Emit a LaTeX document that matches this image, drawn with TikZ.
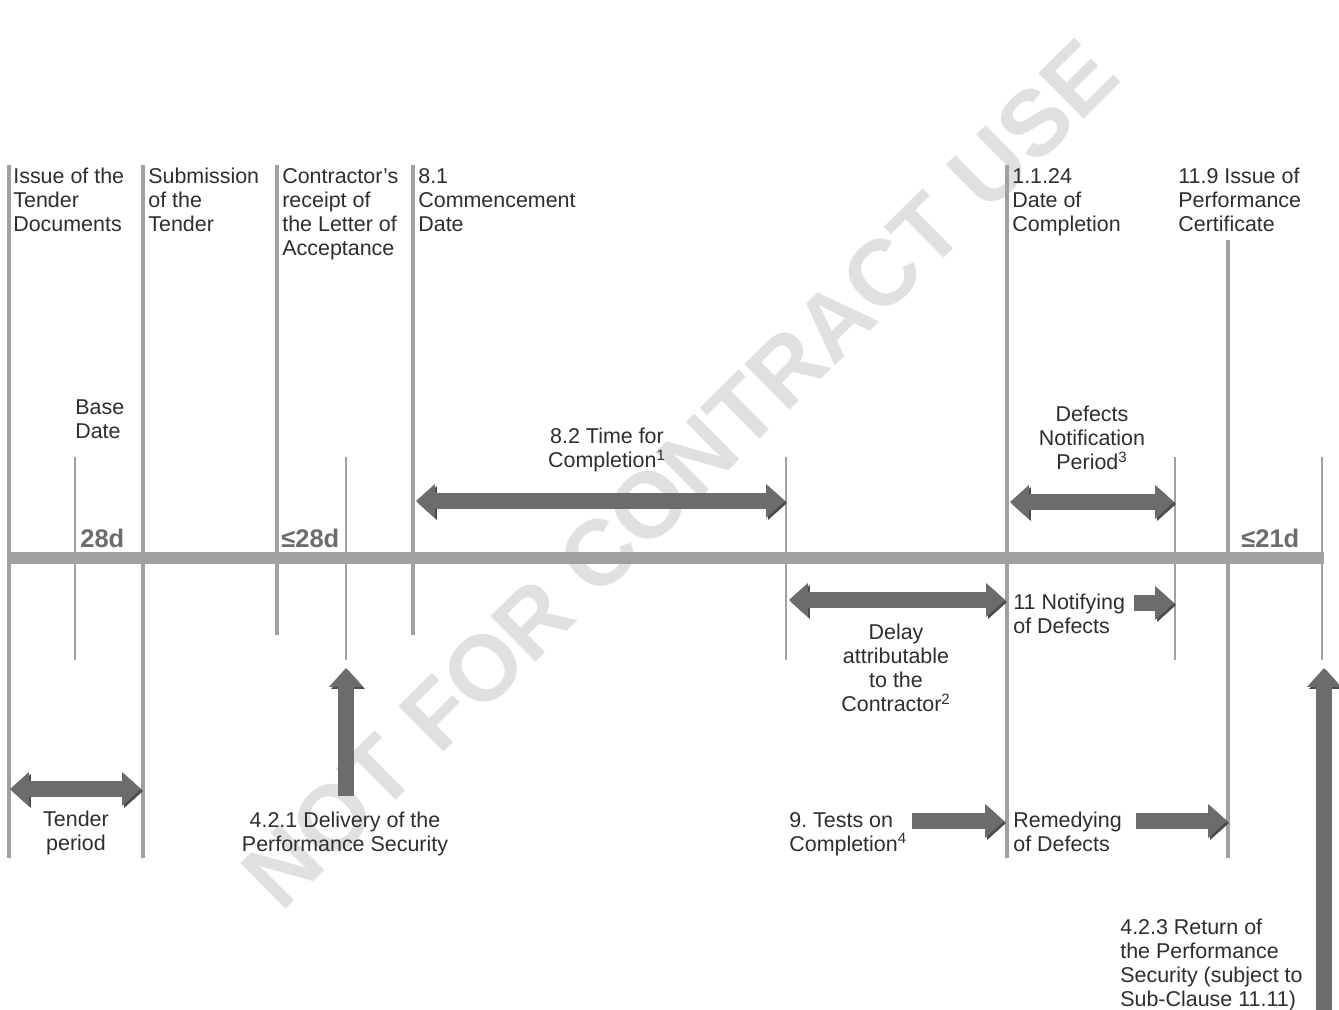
\documentclass[tikz,border=0pt]{standalone}
\usepackage{fontspec}
\setmainfont{Liberation Sans}
\usetikzlibrary{arrows.meta}
\definecolor{lineGray}{HTML}{A0A0A0}
\definecolor{arrowGray}{HTML}{6C6C6A}
\definecolor{textGray}{HTML}{2E2E2E}
\definecolor{markGray}{HTML}{E0E0E0}
\frenchspacing

\begin{document}
\begin{tikzpicture}[
    x=0.02cm, y=-0.02cm,
    font=\fontsize{12.2}{13.66}\selectfont,
    major/.style={draw=lineGray, line width=2.1pt},
    minor/.style={draw=lineGray, line width=1.3pt},
    lbl/.style={inner sep=0pt, anchor=north west, align=left, text=textGray},
    clbl/.style={inner sep=0pt, anchor=north, align=center, text=textGray},
    days/.style={inner sep=0pt, anchor=base west, text=arrowGray, font=\fontsize{14.5}{16}\selectfont\bfseries},
    blk/.tip={Triangle[width=19.4pt, length=10.8pt, line width=0pt 0 0]},
    shade/.style={preaction={draw=black!70, draw opacity=0.12, transform canvas={shift={(2,2)}}}},
    onearrow/.style={shade, draw=arrowGray, line width=9.1pt, -blk},
    twoarrow/.style={shade, draw=arrowGray, line width=9.1pt, blk-blk}
]
    \useasboundingbox (0,0) rectangle (1339,1010);
    \fill[white] (0,0) rectangle (1339,1010);

    % watermark
    \node[rotate=44.7, text=markGray, font=\fontsize{53}{58}\selectfont\bfseries] (stamp) at (680,474) {NOT FOR CONTRACT USE};

    % time line and its marks
    \draw[draw=lineGray, line width=6.8pt] (7,558) -- (1324,558);
    \draw[major] (9,165) -- (9,858);
    \draw[major] (143,165) -- (143,858);
    \draw[major] (277,165) -- (277,635);
    \draw[major] (413,165) -- (413,635);
    \draw[major] (1007,165) -- (1007,858);
    \draw[major] (1228,240) -- (1228,858);
    \foreach \x in {75,346,786,1175,1322}
        \draw[minor] (\x,457) -- (\x,660);

    % events
    \node[lbl] (issue) at (13,168) {Issue of the\\Tender\\Documents};
    \node[lbl] (subm) at (148,168) {Submission\\of the\\Tender};
    \node[lbl] (receipt) at (282,168) {Contractor's\\receipt of\\the Letter of\\Acceptance};
    \node[lbl] (commence) at (418,168) {8.1\\Commencement\\Date};
    \node[lbl] (complete) at (1012,168) {1.1.24\\Date of\\Completion};
    \node[lbl] (perfcert) at (1178,168) {11.9 Issue of\\Performance\\Certificate};
    \node[lbl] (base) at (75,399) {Base\\Date};

    \node[days] (d28) at (80,547) {28d};
    \node[days] (le28) at (281,547) {≤28d};
    \node[days] (le21) at (1241,547) {≤21d};

    % periods
    \node[clbl] (tfc) at (607,428) {8.2 Time for\\Completion\textsuperscript{1}};
    \node[clbl] (dnp) at (1092,406) {Defects\\Notification\\Period\textsuperscript{3}};
    \node[clbl] (delay) at (896,624) {Delay\\attributable\\to the\\Contractor\textsuperscript{2}};
    \node[lbl] (notify) at (1013,594) {11 Notifying\\of Defects};
    \node[clbl] (tenderp) at (76,811) {Tender\\period};
    \node[clbl] (delivery) at (345,812) {4.2.1 Delivery of the\\Performance Security};
    \node[lbl] (tests) at (789,812) {9. Tests on\\Completion\textsuperscript{4}};
    \node[lbl] (remedy) at (1013,812) {Remedying\\of Defects};
    \node[lbl] (return) at (1120,919) {4.2.3 Return of\\the Performance\\Security (subject to\\Sub-Clause 11.11)};

    % arrow ends
    \coordinate (tp-a) at (10,789);    \coordinate (tp-b) at (141,789);
    \coordinate (ps-a) at (346,796);   \coordinate (ps-b) at (346,668);
    \coordinate (tc-a) at (416,501);   \coordinate (tc-b) at (785,501);
    \coordinate (dl-a) at (789,600);   \coordinate (dl-b) at (1005,600);
    \coordinate (dn-a) at (1010,502);  \coordinate (dn-b) at (1174,502);
    \coordinate (nd-a) at (1134,603);  \coordinate (nd-b) at (1174,603);
    \coordinate (tt-a) at (912,821);   \coordinate (tt-b) at (1004,821);
    \coordinate (rd-a) at (1136,821);  \coordinate (rd-b) at (1227,821);
    \coordinate (rs-a) at (1324,1016); \coordinate (rs-b) at (1324,668);

    \draw[twoarrow] (tp-a) -- (tp-b);
    \draw[onearrow] (ps-a) -- (ps-b);
    \draw[twoarrow] (tc-a) -- (tc-b);
    \draw[twoarrow] (dl-a) -- (dl-b);
    \draw[twoarrow] (dn-a) -- (dn-b);
    \draw[onearrow] (nd-a) -- (nd-b);
    \draw[onearrow] (tt-a) -- (tt-b);
    \draw[onearrow] (rd-a) -- (rd-b);
    \draw[onearrow] (rs-a) -- (rs-b);
\end{tikzpicture}
\end{document}
